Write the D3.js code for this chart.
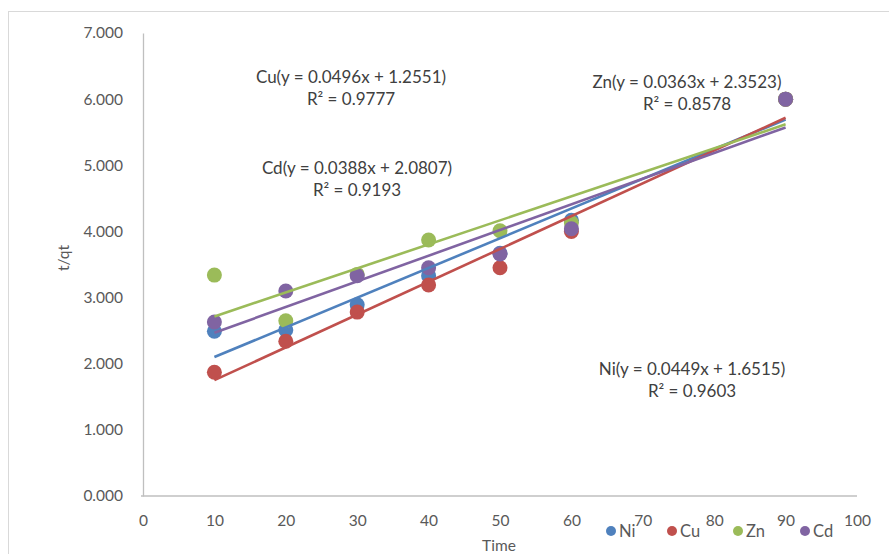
<!DOCTYPE html>
<html><head><meta charset="utf-8">
<script src="https://cdn.jsdelivr.net/npm/d3@7"></script>
<style>body{margin:0;background:#fff}svg{display:block}</style>
</head><body>
<script>
const times = [10, 20, 30, 40, 50, 60, 90];
const niValues = [2.49, 2.51, 2.89, 3.33, 3.67, 4.17, 6.00];
const cuValues = [1.87, 2.34, 2.78, 3.19, 3.45, 4.00, 6.00];
const znValues = [3.34, 2.65, 3.35, 3.87, 4.01, 4.13, 6.00];
const cdValues = [2.63, 3.10, 3.33, 3.45, 3.66, 4.04, 6.00];
const seriesNames = ["Ni", "Cu", "Zn", "Cd"];
const slopes = [0.0449, 0.0496, 0.0363, 0.0388];
const intercepts = [1.6515, 1.2551, 2.3523, 2.0807];
const r2Values = ["0.9603", "0.9777", "0.8578", "0.9193"];
const xTicks = [0, 10, 20, 30, 40, 50, 60, 70, 80, 90, 100];
const yTicks = [0, 1, 2, 3, 4, 5, 6, 7];

const colors = ["#4F81BD", "#C0504D", "#9BBB59", "#8064A2"];
const allValues = [niValues, cuValues, znValues, cdValues];
const W = 889, H = 554;
const font = "Lato, 'Open Sans', sans-serif";

const svg = d3.select("body").append("svg").attr("width", W).attr("height", H);
svg.append("rect").attr("x", 8.5).attr("y", 11.5).attr("width", W).attr("height", H)
  .attr("fill", "#fff").attr("stroke", "#D9D9D9");

const x = d3.scaleLinear().domain([0, 100]).range([143, 857]);
const y = d3.scaleLinear().domain([0, 7]).range([496, 33]);

// axes
const yAxis = d3.axisLeft(y).tickValues(yTicks).tickFormat(d3.format(".3f")).tickSize(0).tickPadding(20);
const gy = svg.append("g").attr("transform", `translate(${x(0)},0)`).call(yAxis);
gy.select(".domain").attr("stroke", "#BFBFBF").attr("stroke-width", 1.3);
gy.selectAll("text").attr("font-family", font).attr("font-size", 15.5).attr("fill", "#595959");

const xAxis = d3.axisBottom(x).tickValues(xTicks).tickSize(0).tickPadding(19);
const gx = svg.append("g").attr("transform", `translate(0,${y(0)})`).call(xAxis);
gx.select(".domain").attr("stroke", "#BFBFBF").attr("stroke-width", 1.3).attr("d", `M${x(0)-2},0H${x(100)}`);
gx.selectAll("text").attr("font-family", font).attr("font-size", 15.5).attr("fill", "#595959");

svg.append("text").attr("transform", "translate(69,258) rotate(-90)").attr("text-anchor", "middle")
  .attr("font-family", font).attr("font-size", 15.5).attr("fill", "#595959").text("t/qt");
svg.append("text").attr("x", 499).attr("y", 551).attr("text-anchor", "middle")
  .attr("font-family", font).attr("font-size", 15.5).attr("fill", "#595959").text("Time");

// markers
allValues.forEach((vals, i) => {
  svg.append("g").selectAll("circle").data(times.map((t, j) => [t, vals[j]])).join("circle")
    .attr("cx", d => x(d[0])).attr("cy", d => y(d[1])).attr("r", 7.5).attr("fill", colors[i]);
});

// trendlines
allValues.forEach((vals, i) => {
  const x0 = d3.min(times), x1 = d3.max(times);
  svg.append("line").attr("x1", x(x0)).attr("y1", y(slopes[i]*x0 + intercepts[i]))
    .attr("x2", x(x1)).attr("y2", y(slopes[i]*x1 + intercepts[i]))
    .attr("stroke", colors[i]).attr("stroke-width", 2.6);
});

// equation labels
const labelPos = [[692, 369], [351, 77], [687, 82], [357, 168]];
seriesNames.forEach((n, i) => {
  const t = svg.append("text").attr("text-anchor", "middle").attr("font-family", font)
    .attr("font-size", 17).attr("fill", "#404040");
  t.append("tspan").attr("x", labelPos[i][0]).attr("y", labelPos[i][1] + 6)
    .text(`${n}(y = ${slopes[i].toFixed(4)}x + ${intercepts[i].toFixed(4)})`);
  t.append("tspan").attr("x", labelPos[i][0]).attr("y", labelPos[i][1] + 28)
    .text(`R² = ${r2Values[i]}`);
});

// legend
const legendX = [611, 672, 738, 805];
seriesNames.forEach((n, i) => {
  svg.append("circle").attr("cx", legendX[i]).attr("cy", 531).attr("r", 5).attr("fill", colors[i]);
  svg.append("text").attr("x", legendX[i] + 8).attr("y", 537).attr("font-family", font)
    .attr("font-size", 16.5).attr("fill", "#595959").text(n);
});
</script>
</body></html>
